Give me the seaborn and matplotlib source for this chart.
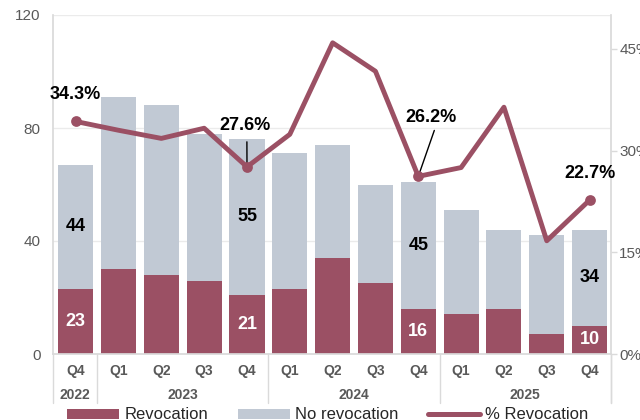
import matplotlib
matplotlib.use("Agg")
import pandas as pd
import seaborn as sns
import matplotlib.pyplot as plt
import matplotlib.transforms as mtransforms
from matplotlib.patches import Patch
from matplotlib.lines import Line2D

# values
quarters = ["Q4", "Q1", "Q2", "Q3", "Q4", "Q1", "Q2", "Q3", "Q4", "Q1", "Q2", "Q3", "Q4"]
years = ["2022", "2023", "2023", "2023", "2023", "2024", "2024", "2024", "2024",
         "2025", "2025", "2025", "2025"]
revocation = [23, 30, 28, 26, 21, 23, 34, 25, 16, 14, 16, 7, 10]
no_revocation = [44, 61, 60, 52, 55, 48, 40, 35, 45, 37, 28, 35, 34]
pct_revocation = [34.3, 33.0, 31.8, 33.3, 27.6, 32.4, 45.9, 41.7, 26.2, 27.5, 36.4, 16.7, 22.7]
labelled = [0, 4, 8, 12]

red = "#9B5064"
grey = "#C1C9D4"
axis_grey = "#DADADA"
text_grey = "#595959"

df = pd.DataFrame({
    "period": [f"{q} {y}" for q, y in zip(quarters, years)],
    "rev": revocation,
    "norev": no_revocation,
})
df["total"] = df["rev"] + df["norev"]
df["pos"] = range(len(df))
df["pct"] = pct_revocation

sns.set_theme(style="white")
plt.rcParams['font.family'] = ['Liberation Sans', 'DejaVu Sans']

fig = plt.figure(figsize=(6.4, 4.2), dpi=100)
ax = fig.add_axes([53 / 640, 66 / 420, 558 / 640, 339 / 420])

# stacked bars: total first, revocation drawn over it
sns.barplot(data=df, x="period", y="total", color=grey, width=0.82,
            saturation=1, linewidth=0, ax=ax)
sns.barplot(data=df, x="period", y="rev", color=red, width=0.82,
            saturation=1, linewidth=0, ax=ax)

ax.set_xlim(-0.53, 12.5)
ax.set_ylim(0, 120)
ax.set_yticks([0, 40, 80, 120])
ax.yaxis.grid(True, color="#EBEBEB", lw=1)
ax.set_axisbelow(True)
ax.tick_params(axis="y", length=0, pad=9, labelsize=11, labelcolor=text_grey)
ax.set_xticks(range(len(df)))
ax.set_xticklabels([])
ax.tick_params(axis="x", length=0)
ax.set_xlabel("")
ax.set_ylabel("")
for s in ["top", "right"]:
    ax.spines[s].set_visible(False)
ax.spines["left"].set_color(axis_grey)
ax.spines["bottom"].set_color(axis_grey)

# bar value labels
for i in labelled:
    ax.text(i, revocation[i] / 2, str(revocation[i]), ha="center", va="center",
            color="white", fontsize=13, fontweight="bold")
    ax.text(i, revocation[i] + no_revocation[i] / 2, str(no_revocation[i]),
            ha="center", va="center", color="black", fontsize=13, fontweight="bold")

# category axis: quarter row, year row and separators
trans = mtransforms.blended_transform_factory(ax.transData, ax.transAxes)
for i, q in enumerate(quarters):
    ax.text(i, -0.05, q, transform=trans, ha="center", va="center",
            fontsize=10, fontweight="bold", color=text_grey)
bounds = [ax.get_xlim()[0]]
for i in range(1, len(years)):
    if years[i] != years[i - 1]:
        bounds.append(i - 0.5)
bounds.append(ax.get_xlim()[1])
for b in bounds:
    ax.plot([b, b], [0, -0.145], transform=trans, color=axis_grey, lw=1, clip_on=False)
for a, b in zip(bounds[:-1], bounds[1:]):
    yr = years[int(round(a + 0.5))] if a > 0 else years[0]
    ax.text((a + b) / 2, -0.122, yr, transform=trans, ha="center", va="center",
            fontsize=10, fontweight="bold", color=text_grey)

# percentage line on secondary axis
ax2 = ax.twinx()
sns.lineplot(data=df, x="pos", y="pct", color=red, lw=3.5, ax=ax2)
sns.scatterplot(data=df.iloc[labelled], x="pos", y="pct", color=red, s=60,
                linewidth=0, ax=ax2, zorder=5)
ax2.set_ylim(0, 50)
ax2.set_yticks([0, 15, 30, 45])
ax2.set_yticklabels(["0%", "15%", "30%", "45%"])
ax2.tick_params(axis="y", length=4, width=1, color=axis_grey, pad=2,
                labelsize=11, labelcolor=text_grey)
ax2.set_xlabel("")
ax2.set_ylabel("")
for s in ["top", "left", "bottom"]:
    ax2.spines[s].set_visible(False)
ax2.spines["right"].set_color(axis_grey)
ax2.spines["right"].set_bounds(0, 50)
ax2.plot([1, 1], [0, -0.145], transform=ax2.transAxes, color=axis_grey, lw=1, clip_on=False)

label_style = dict(textcoords="offset points", ha="center", va="center",
                   fontsize=13, fontweight="bold", color="black")
ax2.annotate("34.3%", (0, pct_revocation[0]), xytext=(0, 19.5), **label_style)
ax2.annotate("27.6%", (4, pct_revocation[4]), xytext=(-1.2, 29.5),
             arrowprops=dict(arrowstyle="-", color="black", lw=1,
                             relpos=(0.53, 0), shrinkA=3, shrinkB=0), **label_style)
ax2.annotate("26.2%", (8, pct_revocation[8]), xytext=(9, 42.5),
             arrowprops=dict(arrowstyle="-", color="black", lw=1,
                             relpos=(0.6, 0), shrinkA=1, shrinkB=0), **label_style)
ax2.annotate("22.7%", (12, pct_revocation[12]), xytext=(0, 19), **label_style)

handles = [
    Patch(facecolor=red, edgecolor="none"),
    Patch(facecolor=grey, edgecolor="none"),
    Line2D([0], [0], color=red, lw=3.6, solid_capstyle="round"),
]
fig.legend(handles, ["Revocation", "No revocation", "% Revocation"],
           loc="center", bbox_to_anchor=(0.512, 0.012), ncol=3, frameon=False,
           fontsize=12, handlelength=3.1, handleheight=0.55, handletextpad=0.3,
           columnspacing=1.8, borderpad=0)

fig.savefig("out.png", dpi=100)
